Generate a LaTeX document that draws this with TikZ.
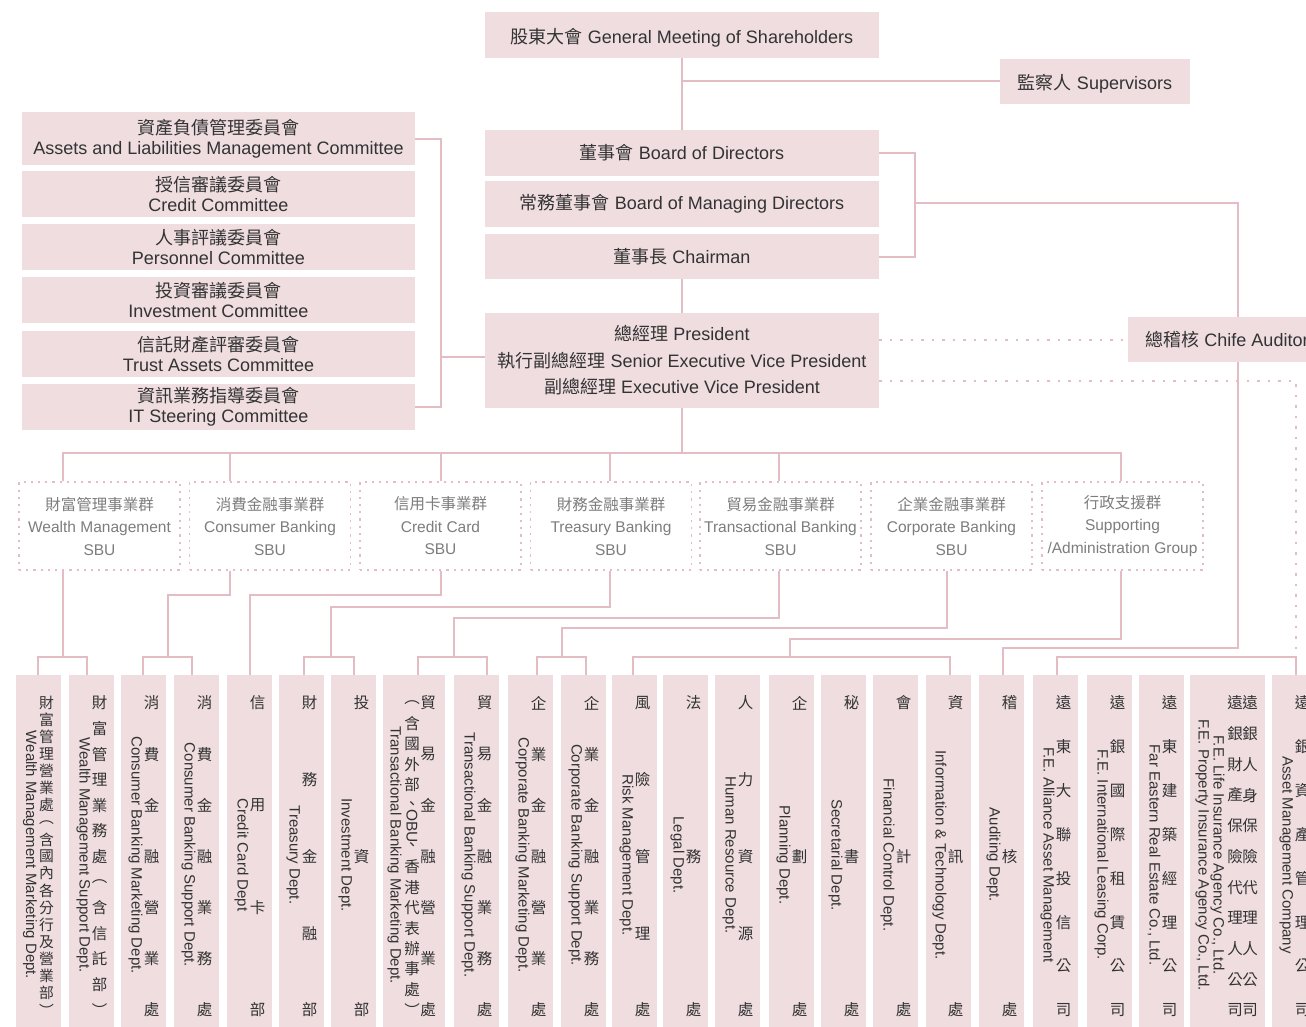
\documentclass[tikz,border=0pt]{standalone}
\usepackage{fontspec}
\setmainfont{Liberation Sans}
\newfontfamily\cjk{Noto Sans CJK TC}
\definecolor{bx}{HTML}{EFDDE0}
\definecolor{ln}{HTML}{E3BCC4}
\definecolor{tx}{HTML}{333333}
\definecolor{gt}{HTML}{7D7D7D}
\pgfdeclarelayer{back}\pgfdeclarelayer{bg}
\pgfsetlayers{back,bg,main}
% vertical CJK stack: name, x, count, list
\newcommand\vcol[4]{\foreach \ch [count=\k from 0] in {#4}{\node[vch] (#1-\k) at (#2,{703+\k*307/(#3-1)}) {\ch};}}
\newcommand\brk[4]{\draw[conn] ([xshift=#2pt]#1.north) -- ++(0,-18) -| ([xshift=#4pt]#3.north);}
\begin{document}
\begin{tikzpicture}[x=1pt,y=-1pt,
  box/.style={fill=bx, inner sep=0pt, text=tx, align=center, font=\fontsize{18}{20}\selectfont},
  sbu/.style={draw=ln, line width=1.4pt, dash pattern=on 2.2pt off 5pt, inner sep=0pt, minimum width=161pt, minimum height=88pt, text=gt, align=center, font=\fontsize{15.5}{22.5}\selectfont},
  col/.style={fill=bx, inner sep=0pt, minimum height=355pt, minimum width=45pt},
  vch/.style={inner sep=0pt, text=tx, font=\cjk\fontsize{15.5}{16}\selectfont},
  eng/.style={inner sep=0pt, text=tx, font=\fontsize{15}{16}\selectfont, rotate=-90, text height=10.5pt, text depth=1.5pt},
  conn/.style={draw=ln, line width=2pt},
  dotl/.style={draw=ln, line width=2pt, dash pattern=on 2.5pt off 8pt}]
\useasboundingbox (0,0) rectangle (1306,1027);
\begin{pgfonlayer}{back}\fill[white] (0,0) rectangle (1306,1027);\end{pgfonlayer}

% ---- top boxes
\node[box, minimum width=394pt, minimum height=46pt] (gms) at (682,35) {\raisebox{-8.5pt}[0pt][0pt]{{\cjk 股東大會} General Meeting of Shareholders}};
\node[box, minimum width=190pt, minimum height=45pt] (sup) at (1095,81.5) {\raisebox{-8pt}[0pt][0pt]{{\cjk 監察人} Supervisors}};
\node[box, minimum width=394pt, minimum height=46pt] (bod) at (682,153) {{\cjk 董事會} Board of Directors};
\node[box, minimum width=394pt, minimum height=46pt] (bmd) at (682,204) {{\cjk 常務董事會} Board of Managing Directors};
\node[box, minimum width=394pt, minimum height=45pt] (chm) at (682,256.5) {{\cjk 董事長} Chairman};
\node[box, minimum width=394pt, minimum height=95pt, font=\fontsize{18}{26.5}\selectfont] (pres) at (682,360.5) {{\cjk 總經理} President\\{\cjk 執行副總經理} Senior Executive Vice President\\{\cjk 副總經理} Executive Vice President};
\node[box, minimum width=198pt, minimum height=45pt] (cha) at (1227,339.5) {{\cjk 總稽核} Chife Auditor};

% ---- committees
\node[box, minimum width=393pt, minimum height=53pt] (alm) at (218.5,139) {{\cjk 資產負債管理委員會}\\Assets and Liabilities Management Committee};
\node[box, minimum width=393pt, minimum height=46pt] (crc) at (218.5,194) {{\cjk 授信審議委員會}\\Credit Committee};
\node[box, minimum width=393pt, minimum height=46pt] (per) at (218.5,247) {{\cjk 人事評議委員會}\\Personnel Committee};
\node[box, minimum width=393pt, minimum height=46pt] (inv) at (218.5,300) {{\cjk 投資審議委員會}\\Investment Committee};
\node[box, minimum width=393pt, minimum height=46pt] (tac) at (218.5,354) {{\cjk 信託財產評審委員會}\\Trust Assets Committee};
\node[box, minimum width=393pt, minimum height=46pt] (itc) at (218.5,407) {{\cjk 資訊業務指導委員會}\\IT Steering Committee};

% ---- SBUs
\node[sbu] (sbuW) at (99.5,526) {{\cjk 財富管理事業群}\\Wealth Management\\SBU};
\node[sbu] (sbuC) at (270,526) {{\cjk 消費金融事業群}\\Consumer Banking\\SBU};
\node[sbu] (sbuK) at (440.5,526) {{\cjk 信用卡事業群}\\Credit Card\\SBU};
\node[sbu] (sbuT) at (611,526) {{\cjk 財務金融事業群}\\Treasury Banking\\SBU};
\node[sbu] (sbuX) at (780.5,526) {{\cjk 貿易金融事業群}\\Transactional Banking\\SBU};
\node[sbu] (sbuP) at (951.5,526) {{\cjk 企業金融事業群}\\Corporate Banking\\SBU};
\node[sbu] (sbuS) at (1122.5,526) {{\cjk 行政支援群}\\Supporting\\/Administration Group};

% ---- columns
\node[col] (c1) at (38.5,852.5) {};
\node[col] (c2) at (91.5,852.5) {};
\node[col] (c3) at (143.5,852.5) {};
\node[col] (c4) at (196.5,852.5) {};
\node[col] (c5) at (249.5,852.5) {};
\node[col] (c6) at (301.5,852.5) {};
\node[col] (c7) at (353.5,852.5) {};
\node[col, minimum width=62pt] (c8) at (414,852.5) {};
\node[col] (c9) at (476.5,852.5) {};
\node[col] (c10) at (530.5,852.5) {};
\node[col] (c11) at (583.5,852.5) {};
\node[col] (c12) at (634.5,852.5) {};
\node[col] (c13) at (685.5,852.5) {};
\node[col] (c14) at (737.5,852.5) {};
\node[col] (c15) at (791.5,852.5) {};
\node[col] (c16) at (843.5,852.5) {};
\node[col] (c17) at (895.5,852.5) {};
\node[col] (c18) at (948,852.5) {};
\node[col] (c19) at (1001.5,852.5) {};
\node[col] (c20) at (1055.5,852.5) {};
\node[col] (c21) at (1109.5,852.5) {};
\node[col] (c22) at (1161.5,852.5) {};
\node[col, minimum width=75pt] (c23) at (1227.5,852.5) {};
\node[col] (c24) at (1294.5,852.5) {};

% ---- column texts
\begin{scope}[vch/.append style={font=\cjk\fontsize{14.8}{15}\selectfont}]
\vcol{v1}{46.5}{19}{財,富,管,理,營,業,處,︵,含,國,內,各,分,行,及,營,業,部,︶}
\end{scope}
\node[eng] (e1) at (30.5,855) {Wealth Management Marketing Dept.};
\vcol{v2}{99.5}{13}{財,富,管,理,業,務,處,︵,含,信,託,部,︶}
\node[eng] (e2) at (84,855) {Wealth Management Support Dept.};
\vcol{v3}{151.5}{7}{消,費,金,融,營,業,處}
\node[eng] (e3) at (136,855) {Consumer Banking Marketing Dept.};
\vcol{v4}{204.5}{7}{消,費,金,融,業,務,處}
\node[eng] (e4) at (189,855) {Consumer Banking Support Dept.};
\vcol{v5}{257.5}{4}{信,用,卡,部}
\node[eng] (e5) at (242,855) {Credit Card Dept};
\vcol{v6}{309.5}{5}{財,務,金,融,部}
\node[eng] (e6) at (294,855) {Treasury Dept.};
\vcol{v7}{361.5}{3}{投,資,部}
\node[eng] (e7) at (346,855) {Investment Dept.};
\vcol{v8}{428}{7}{貿,易,金,融,營,業,處}
\vcol{w8}{412}{16}{︵,含,國,外,部,、,{\rotatebox{-90}{\rmfamily OBU}},、,香,港,代,表,辦,事,處,︶}
\node[eng] (e8) at (395,855) {Transactional Banking Marketing Dept.};
\vcol{v9}{484.5}{7}{貿,易,金,融,業,務,處}
\node[eng] (e9) at (469,855) {Transactional Banking Support Dept.};
\vcol{v10}{538.5}{7}{企,業,金,融,營,業,處}
\node[eng] (e10) at (523,855) {Corporate Banking Marketing Dept.};
\vcol{v11}{591.5}{7}{企,業,金,融,業,務,處}
\node[eng] (e11) at (576,855) {Corporate Banking Support Dept.};
\vcol{v12}{642.5}{5}{風,險,管,理,處}
\node[eng] (e12) at (627,855) {Risk Management Dept.};
\vcol{v13}{693.5}{3}{法,務,處}
\node[eng] (e13) at (678,855) {Legal Dept.};
\vcol{v14}{745.5}{5}{人,力,資,源,處}
\node[eng] (e14) at (730,855) {Human Resource Dept.};
\vcol{v15}{799.5}{3}{企,劃,處}
\node[eng] (e15) at (784,855) {Planning Dept.};
\vcol{v16}{851.5}{3}{秘,書,處}
\node[eng] (e16) at (836,855) {Secretarial Dept.};
\vcol{v17}{903.5}{3}{會,計,處}
\node[eng] (e17) at (888,855) {Financial Control Dept.};
\vcol{v18}{955.5}{3}{資,訊,處}
\node[eng] (e18) at (940,855) {Information \& Technology Dept.};
\vcol{v19}{1009.5}{3}{稽,核,處}
\node[eng] (e19) at (994,855) {Auditing Dept.};
\vcol{v20}{1063.5}{8}{遠,東,大,聯,投,信,公,司}
\node[eng] (e20) at (1048,855) {F.E. Alliance Asset Management};
\vcol{v21}{1117.5}{8}{遠,銀,國,際,租,賃,公,司}
\node[eng] (e21) at (1102,855) {F.E. International Leasing Corp.};
\vcol{v22}{1169.5}{8}{遠,東,建,築,經,理,公,司}
\node[eng] (e22) at (1154,855) {Far Eastern Real Estate Co., Ltd.};
\vcol{v23}{1250}{11}{遠,銀,人,身,保,險,代,理,人,公,司}
\vcol{w23}{1235}{11}{遠,銀,財,產,保,險,代,理,人,公,司}
\node[eng] (e23) at (1218,855) {F.E. Life Insurance Agency Co., Ltd.};
\node[eng] (f23) at (1203,855) {F.E. Property Insurance Agency Co., Ltd.};
\vcol{v24}{1302.5}{8}{遠,銀,資,產,管,理,公,司}
\node[eng] (e24) at (1287,855) {Asset Management Company};

% ---- connectors
\begin{pgfonlayer}{bg}
\coordinate (tJ) at (682,453);
\coordinate (tW) at (62.7,453);
\coordinate (tC) at (230.2,453);
\coordinate (tK) at (440.7,453);
\coordinate (tT) at (610,453);
\coordinate (tX) at (779,453);
\coordinate (tS) at (1121,453);
\coordinate (tP) at (947,453);
\coordinate (bC) at (168,657);
\coordinate (bT) at (331,657);
\coordinate (bX) at (454,657);
\coordinate (bP) at (562,657);
\coordinate (bS) at (790,657);
\coordinate (bk) at (915,203);
\coordinate (cb) at (441,357);
\coordinate (pd) at (879,381);

\draw[conn] (gms.south) -- (bod.north);
\draw[conn] (gms.south |- sup.west) -- (sup.west);
\draw[conn] (bod.east) -- ++(36,0) |- (chm.east);
\draw[conn] (bk) -- ++(323,0) -- ++(0,445) -| ([xshift=1.5pt]c19.north);
\draw[conn] (chm.south) -- (pres.north);
\draw[conn] (alm.east) -- ++(26,0) |- (itc.east);
\draw[conn] (cb) -- (pres.west |- cb);
\draw[dotl] (pres.east |- cha.west) -- (cha.west);
\draw[dotl] (pres.east |- pd) -- ++(417,0) -- ++(0,276);

\draw[conn] (pres.south) -- (tJ);
\draw[conn] (sbuW.north -| tW) -- (tW) -- (tS) -- (sbuS.north -| tS);
\foreach \s/\t in {sbuC/tC, sbuK/tK, sbuT/tT, sbuX/tX} \draw[conn] (\t) -- (\s.north -| \t);

\draw[conn] (sbuW.south -| tW) -- ++(0,87);
\draw[conn] (sbuC.south -| tC) -- ++(0,24) -| (bC);
\draw[conn] (sbuK.south -| tK) -- ++(0,24) -| ([xshift=0.5pt]c5.north);
\draw[conn] (sbuT.south -| tT) -- ++(0,36) -| (bT);
\draw[conn] (sbuX.south -| tX) -- ++(0,47) -| (bX);
\draw[conn] (sbuP.south -| tP) -- ++(0,57) -| (bP);
\draw[conn] (sbuS.south -| tS) -- ++(0,68) -| (bS);

\brk{c1}{-0.5}{c2}{-4.5}
\brk{c3}{-0.5}{c4}{-4.5}
\brk{c6}{2.5}{c7}{0.5}
\brk{c8}{4}{c9}{10.5}
\brk{c10}{6.5}{c11}{2.5}
\brk{c12}{-1.5}{c18}{2}
\brk{c20}{1.5}{c24}{1.5}
\end{pgfonlayer}
\end{tikzpicture}
\end{document}
